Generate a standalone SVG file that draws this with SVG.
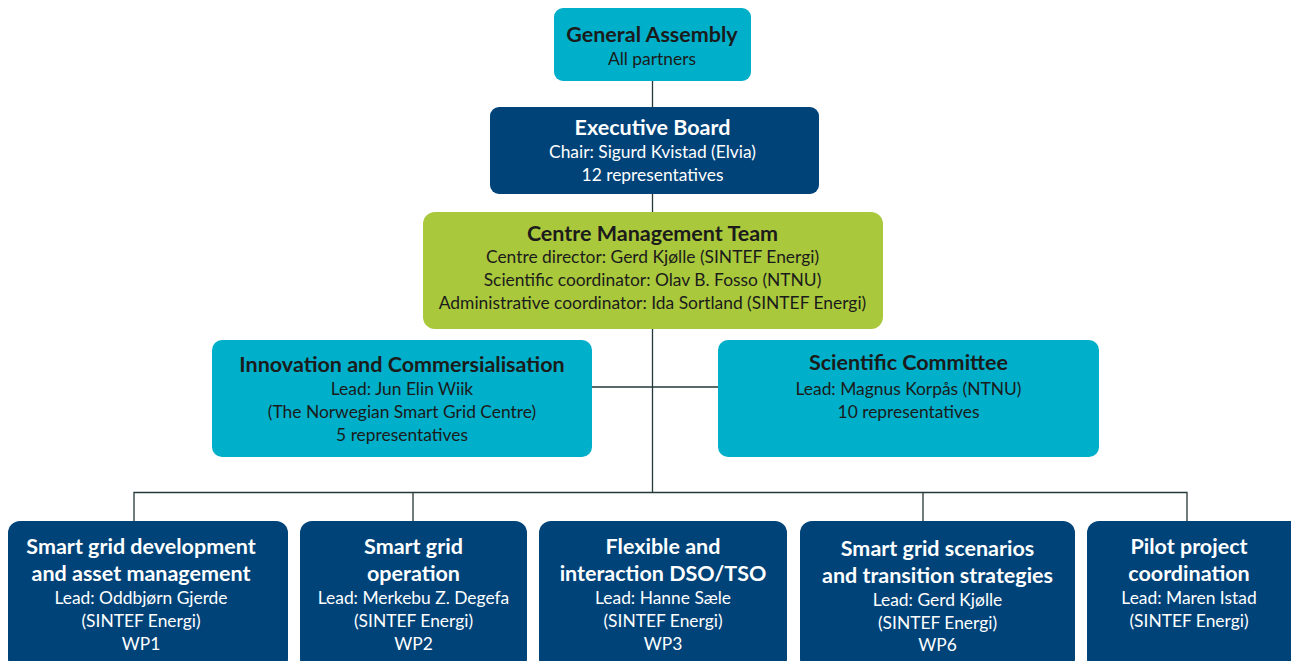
<svg xmlns="http://www.w3.org/2000/svg" width="1291" height="661" viewBox="0 0 1291 661">
<style>
.cyan{fill:#00afc9}
.navy{fill:#004379}
.green{fill:#a9c83b}
text{font-family:Lato,"Open Sans","Liberation Sans",sans-serif;text-anchor:middle}
.t{font-weight:bold;font-size:21.5px}
.b{font-size:17.4px}
.dk{fill:#1b1b1b}
.wt{fill:#ffffff}
.conn{stroke:#253838;stroke-width:1.3;fill:none}
</style>
<g id="connectors">
<path class="conn" d="M652.5 81V492M592 387H718M134 521V492.5H1187V521M413 492.5V521M923 492.5V521"/>
</g>
<g id="general-assembly">
<rect class="cyan" x="554" y="8" width="197" height="73" rx="9"/>
<text class="t dk" x="652" y="42">General Assembly</text>
<text class="b dk" x="652" y="64.5">All partners</text>
</g>
<g id="executive-board">
<rect class="navy" x="490" y="107" width="329" height="87" rx="9"/>
<text class="t wt" x="652.5" y="135">Executive Board</text>
<text class="b wt" x="652.5" y="157.5">Chair: Sigurd Kvistad (Elvia)</text>
<text class="b wt" x="652.5" y="180.5">12 representatives</text>
</g>
<g id="centre-management-team">
<rect class="green" x="423" y="212" width="460" height="117" rx="12"/>
<text class="t dk" x="652.5" y="241">Centre Management Team</text>
<text class="b dk" x="652.5" y="262.5">Centre director: Gerd Kjølle (SINTEF Energi)</text>
<text class="b dk" x="652.5" y="285.5">Scientific coordinator: Olav B. Fosso (NTNU)</text>
<text class="b dk" x="652.5" y="308.5">Administrative coordinator: Ida Sortland (SINTEF Energi)</text>
</g>
<g id="innovation">
<rect class="cyan" x="212" y="340" width="380" height="117" rx="10"/>
<text class="t dk" x="402" y="372">Innovation and Commersialisation</text>
<text class="b dk" x="402" y="394.5">Lead: Jun Elin Wiik</text>
<text class="b dk" x="402" y="417.5">(The Norwegian Smart Grid Centre)</text>
<text class="b dk" x="402" y="440.5">5 representatives</text>
</g>
<g id="scientific-committee">
<rect class="cyan" x="718" y="340" width="381" height="117" rx="10"/>
<text class="t dk" x="908.5" y="370">Scientific Committee</text>
<text class="b dk" x="908.5" y="394.5">Lead: Magnus Korpås (NTNU)</text>
<text class="b dk" x="908.5" y="417.5">10 representatives</text>
</g>
<g id="wp1">
<rect class="navy" x="8" y="521" width="280" height="150" rx="12"/>
<text class="t wt" x="141" y="554">Smart grid development</text>
<text class="t wt" x="141" y="581">and asset management</text>
<text class="b wt" x="141" y="603.5">Lead: Oddbjørn Gjerde</text>
<text class="b wt" x="141" y="626.5">(SINTEF Energi)</text>
<text class="b wt" x="141" y="649.5">WP1</text>
</g>
<g id="wp2">
<rect class="navy" x="300" y="521" width="227" height="150" rx="12"/>
<text class="t wt" x="413.5" y="554">Smart grid</text>
<text class="t wt" x="413.5" y="581">operation</text>
<text class="b wt" x="413.5" y="603.5">Lead: Merkebu Z. Degefa</text>
<text class="b wt" x="413.5" y="626.5">(SINTEF Energi)</text>
<text class="b wt" x="413.5" y="649.5">WP2</text>
</g>
<g id="wp3">
<rect class="navy" x="539" y="521" width="248" height="150" rx="12"/>
<text class="t wt" x="663" y="554">Flexible and</text>
<text class="t wt" x="663" y="581">interaction DSO/TSO</text>
<text class="b wt" x="663" y="603.5">Lead: Hanne Sæle</text>
<text class="b wt" x="663" y="626.5">(SINTEF Energi)</text>
<text class="b wt" x="663" y="649.5">WP3</text>
</g>
<g id="wp6">
<rect class="navy" x="800" y="521" width="275" height="150" rx="12"/>
<text class="t wt" x="937.5" y="556">Smart grid scenarios</text>
<text class="t wt" x="937.5" y="583">and transition strategies</text>
<text class="b wt" x="937.5" y="605.5">Lead: Gerd Kjølle</text>
<text class="b wt" x="937.5" y="628.5">(SINTEF Energi)</text>
<text class="b wt" x="937.5" y="650.5">WP6</text>
</g>
<g id="pilot">
<rect class="navy" x="1087" y="521" width="215" height="150" rx="12"/>
<text class="t wt" x="1189" y="554">Pilot project</text>
<text class="t wt" x="1189" y="581">coordination</text>
<text class="b wt" x="1189" y="603.5">Lead: Maren Istad</text>
<text class="b wt" x="1189" y="626.5">(SINTEF Energi)</text>
</g>
</svg>
